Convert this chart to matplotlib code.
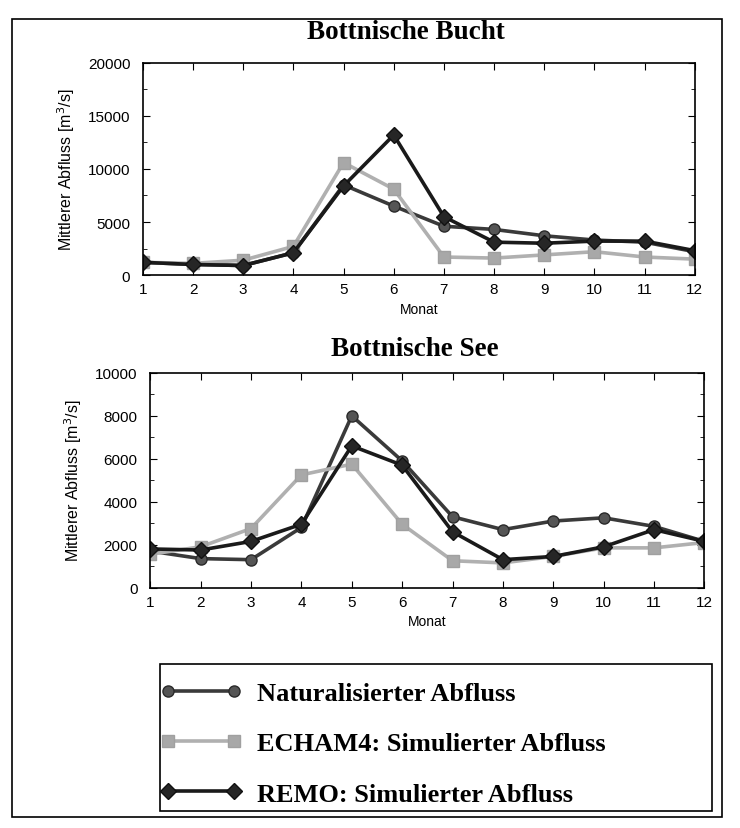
import matplotlib
matplotlib.use("Agg")
import matplotlib.pyplot as plt
from matplotlib.patches import Rectangle
from matplotlib.ticker import MultipleLocator

# Monate
months = list(range(1, 13))

# Bottnische Bucht (m3/s)
bucht_nat = [1200, 1000, 900, 2100, 8500, 6500, 4600, 4300, 3700, 3300, 3100, 2200]
bucht_echam = [1200, 1100, 1400, 2700, 10600, 8100, 1700, 1600, 1900, 2200, 1700, 1500]
bucht_remo = [1200, 1000, 900, 2100, 8400, 13200, 5500, 3100, 3000, 3200, 3200, 2300]

# Bottnische See (m3/s)
see_nat = [1700, 1350, 1300, 2800, 8000, 5900, 3300, 2700, 3100, 3250, 2850, 2150]
see_echam = [1550, 1900, 2750, 5250, 5750, 2950, 1250, 1150, 1450, 1850, 1850, 2100]
see_remo = [1800, 1750, 2150, 2950, 6600, 5700, 2600, 1300, 1450, 1900, 2700, 2150]

labels = ["Naturalisierter Abfluss", "ECHAM4: Simulierter Abfluss", "REMO: Simulierter Abfluss"]

styles = [
    dict(color="#3a3a3a", marker="o", mfc="#555555", mec="#2a2a2a"),
    dict(color="#b0b0b0", marker="s", mfc="#a8a8a8", mec="#a0a0a0"),
    dict(color="#1a1a1a", marker="D", mfc="#262626", mec="#111111"),
]

fig = plt.figure(figsize=(7.4, 8.29), dpi=100)
serif = "Liberation Serif"
sans = "Liberation Sans"


def draw_panel(ax, series, ymax, major, minor, title, tpad):
    handles = []
    for vals, st in zip(series, styles):
        h, = ax.plot(months, vals, color=st["color"], lw=2.6, marker=st["marker"],
                     ms=8, mfc=st["mfc"], mec=st["mec"], mew=1)
        handles.append(h)
    ax.set_xlim(1, 12)
    ax.set_ylim(0, ymax)
    ax.set_xticks(months)
    ax.yaxis.set_major_locator(MultipleLocator(major))
    ax.yaxis.set_minor_locator(MultipleLocator(minor))
    ax.tick_params(direction="in", top=True, right=True, length=5, labelsize=11)
    ax.tick_params(axis="y", pad=9)
    ax.tick_params(axis="x", pad=5)
    ax.tick_params(which="minor", direction="in", right=True, length=3)
    for lab in ax.get_xticklabels() + ax.get_yticklabels():
        lab.set_family(sans)
    ax.set_xlabel("Monat", fontsize=10, family=sans, labelpad=4)
    ax.set_ylabel("Mittlerer Abfluss [m$^3$/s]", fontsize=11.5, family=sans, labelpad=8)
    ax.set_title(title, fontsize=19.5, fontweight="bold", family=serif, pad=tpad, x=0.477)
    for sp in ax.spines.values():
        sp.set_linewidth(1.2)
    return handles


ax1 = fig.add_axes([0.193, 0.667, 0.746, 0.256])
handles = draw_panel(ax1, [bucht_nat, bucht_echam, bucht_remo], 20000, 5000, 2500,
                     "Bottnische Bucht", 18)

ax2 = fig.add_axes([0.203, 0.29, 0.749, 0.259])
draw_panel(ax2, [see_nat, see_echam, see_remo], 10000, 2000, 1000, "Bottnische See", 13)

# Legende ohne eigenen Rahmen, Rahmen separat
leg = fig.legend(handles, labels, loc="upper left", bbox_to_anchor=(0.216, 0.177),
                 numpoints=2, handlelength=3.1, handletextpad=0.6,
                 labelspacing=1.02, borderpad=0, borderaxespad=0, frameon=False,
                 prop=dict(family=serif, weight="bold", size=19))

fig.patches.append(Rectangle((0.216, 0.0205), 0.746, 0.177, transform=fig.transFigure,
                             fill=False, edgecolor="black", lw=1.2))

# Rahmen um die ganze Abbildung
fig.patches.append(Rectangle((0.016, 0.013), 0.96, 0.963, transform=fig.transFigure,
                             fill=False, edgecolor="black", lw=1.2))

fig.savefig("out.png", dpi=100)
